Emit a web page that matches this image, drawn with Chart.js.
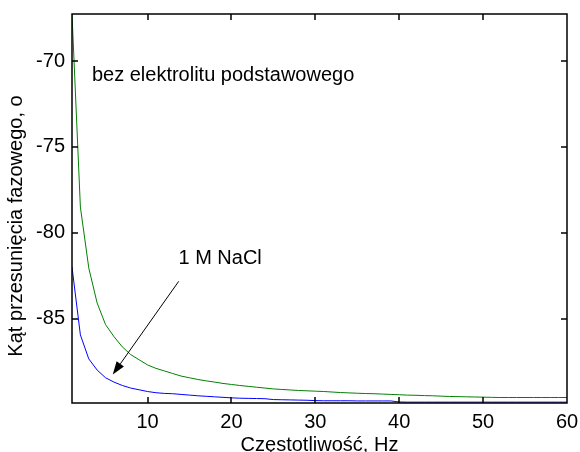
<!DOCTYPE html>
<html><head><meta charset="utf-8">
<script src="https://cdn.jsdelivr.net/npm/chart.js@4/dist/chart.umd.min.js"></script>
<style>html,body{margin:0;padding:0;background:#fff;}canvas{display:block;}</style>
</head><body>
<canvas id="c" width="580" height="452"></canvas>
<script>
// ---- data ----
const frequencies = [1,2,3,4,5,6,7,8,9,10,11,12,13,14,15,16,17,18,19,20,
  21,22,23,24,25,26,27,28,29,30,31,32,33,34,35,36,37,38,39,40,
  41,42,43,44,45,46,47,48,49,50,51,52,53,54,55,56,57,58,59,60];
const bezElektrolitu = [-67.25,-78.5,-82.05,-84.1,-85.35,-86.05,-86.65,-87.1,-87.4,-87.7,
  -87.9,-88.05,-88.2,-88.35,-88.45,-88.55,-88.63,-88.7,-88.78,-88.84,
  -88.9,-88.95,-89.0,-89.05,-89.1,-89.13,-89.16,-89.19,-89.21,-89.23,
  -89.25,-89.28,-89.31,-89.33,-89.35,-89.37,-89.38,-89.4,-89.42,-89.44,
  -89.46,-89.47,-89.49,-89.5,-89.52,-89.54,-89.55,-89.56,-89.57,-89.58,
  -89.59,-89.6,-89.6,-89.6,-89.6,-89.6,-89.6,-89.6,-89.6,-89.6];
const naCl1M = [-82.0,-85.95,-87.35,-88.0,-88.45,-88.7,-88.9,-89.05,-89.15,-89.25,
  -89.32,-89.36,-89.38,-89.42,-89.46,-89.5,-89.53,-89.56,-89.59,-89.62,
  -89.64,-89.65,-89.66,-89.67,-89.72,-89.73,-89.74,-89.75,-89.76,-89.78,
  -89.79,-89.79,-89.79,-89.79,-89.8,-89.8,-89.8,-89.8,-89.8,-89.86,
  -89.87,-89.87,-89.87,-89.87,-89.87,-89.87,-89.87,-89.87,-89.87,-89.87,
  -89.87,-89.87,-89.87,-89.87,-89.87,-89.87,-89.87,-89.87,-89.87,-89.87];
const xTicks = [10,20,30,40,50,60];
const yTicks = [-85,-80,-75,-70];
const xRange = [1,60];
const yRange = [-89.92,-67.25];
const xTitle = 'Częstotliwość, Hz';
const yTitle = 'Kąt przesunięcia fazowego, o';
const noteTop = {text:'bez elektrolitu podstawowego', x:3.37, y:-70.86};
const noteNaCl = {text:'1 M NaCl', x:13.69, y:-81.51};
const arrowFrom = {x:13.72, y:-82.83};
const arrowTo = {x:5.86, y:-88.26};

const FONT = 'Liberation Sans, Arial, Helvetica, sans-serif';

const matlabAxes = {
  id:'matlabAxes',
  afterDraw(chart){
    const ctx = chart.ctx;
    const x = chart.scales.x, y = chart.scales.y;
    const L = Math.round(x.getPixelForValue(xRange[0]));
    const R = Math.round(x.getPixelForValue(xRange[1]));
    const T = Math.round(y.getPixelForValue(yRange[1]));
    const B = Math.round(y.getPixelForValue(yRange[0]));
    ctx.save();
    ctx.strokeStyle = '#000';
    ctx.lineWidth = 1.5;
    ctx.beginPath();
    ctx.moveTo(L,T); ctx.lineTo(R,T); ctx.lineTo(R,B); ctx.lineTo(L,B); ctx.closePath();
    for (const v of xTicks){
      const p = Math.round(x.getPixelForValue(v));
      ctx.moveTo(p,B); ctx.lineTo(p,B-6);
      ctx.moveTo(p,T); ctx.lineTo(p,T+6);
    }
    for (const v of yTicks){
      const p = Math.round(y.getPixelForValue(v));
      ctx.moveTo(L,p); ctx.lineTo(L+6,p);
      ctx.moveTo(R,p); ctx.lineTo(R-6,p);
    }
    ctx.stroke();

    // annotations
    ctx.lineWidth = 1;
    ctx.fillStyle = '#000';
    ctx.font = '20px ' + FONT;
    ctx.textAlign = 'left';
    ctx.textBaseline = 'middle';
    ctx.fillText(noteTop.text, x.getPixelForValue(noteTop.x), y.getPixelForValue(noteTop.y));
    ctx.fillText(noteNaCl.text, x.getPixelForValue(noteNaCl.x), y.getPixelForValue(noteNaCl.y));

    const x0 = x.getPixelForValue(arrowFrom.x), y0 = y.getPixelForValue(arrowFrom.y);
    const x1 = x.getPixelForValue(arrowTo.x), y1 = y.getPixelForValue(arrowTo.y);
    const ang = Math.atan2(y1-y0, x1-x0);
    const hl = 13, hw = 4.5;
    const bx = x1 - hl*Math.cos(ang), by = y1 - hl*Math.sin(ang);
    ctx.beginPath();
    ctx.moveTo(x0,y0); ctx.lineTo(bx,by);
    ctx.stroke();
    ctx.beginPath();
    ctx.moveTo(x1,y1);
    ctx.lineTo(bx + hw*Math.sin(ang), by - hw*Math.cos(ang));
    ctx.lineTo(bx - hw*Math.sin(ang), by + hw*Math.cos(ang));
    ctx.closePath();
    ctx.fill();

    // y axis title
    ctx.translate(16, 226);
    ctx.rotate(-Math.PI/2);
    ctx.textAlign = 'center';
    ctx.textBaseline = 'middle';
    ctx.fillText(yTitle, 0, 0);
    ctx.restore();
  }
};

new Chart(document.getElementById('c'), {
  type:'line',
  data:{
    datasets:[
      {label:'bez elektrolitu podstawowego', data:frequencies.map((f,i)=>({x:f,y:bezElektrolitu[i]})),
       borderColor:'#008000', borderWidth:1, pointRadius:0, tension:0, fill:false},
      {label:'1 M NaCl', data:frequencies.map((f,i)=>({x:f,y:naCl1M[i]})),
       borderColor:'#0000ff', borderWidth:1, pointRadius:0, tension:0, fill:false}
    ]
  },
  options:{
    responsive:false,
    animation:false,
    devicePixelRatio:1,
    layout:{padding:{top:14,right:13,left:0,bottom:0}},
    plugins:{legend:{display:false}, tooltip:{enabled:false}},
    scales:{
      x:{
        type:'linear', min:xRange[0], max:xRange[1],
        afterBuildTicks(s){ s.ticks = xTicks.map(v=>({value:v})); },
        afterFit(s){ s.height = 49; s.paddingLeft = 0; s.paddingRight = 0; },
        grid:{display:false, drawTicks:false},
        border:{display:false},
        ticks:{padding:7, color:'#000', font:{family:FONT, size:20}, maxRotation:0, autoSkip:false},
        title:{display:true, text:xTitle, color:'#000', font:{family:FONT, size:20, lineHeight:0.7}, padding:{top:0,bottom:0}}
      },
      y:{
        type:'linear', min:yRange[0], max:yRange[1],
        afterBuildTicks(s){ s.ticks = yTicks.map(v=>({value:v})); },
        afterFit(s){ s.width = 72; s.paddingTop = 0; s.paddingBottom = 0; },
        grid:{display:false, drawTicks:false},
        border:{display:false},
        ticks:{padding:7, color:'#000', font:{family:FONT, size:20}, autoSkip:false}
      }
    }
  },
  plugins:[matlabAxes]
});
</script>
</body></html>
